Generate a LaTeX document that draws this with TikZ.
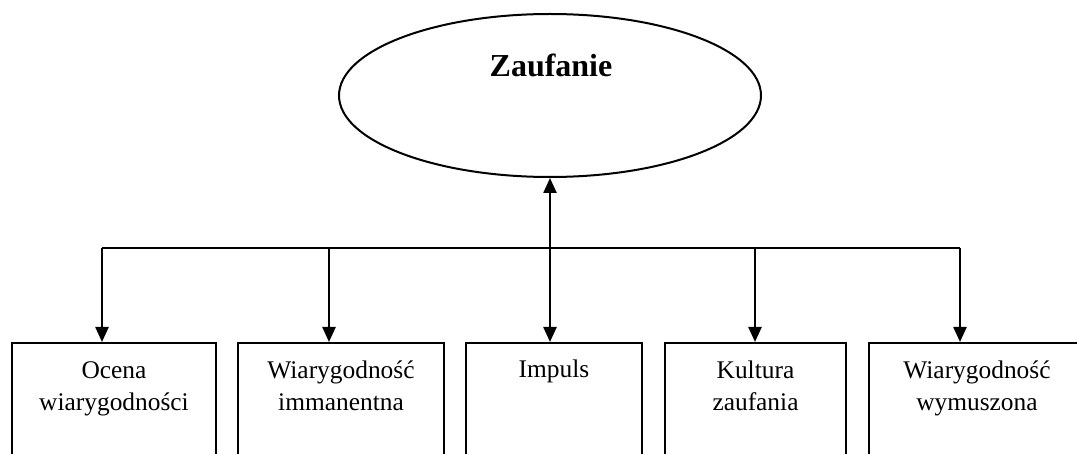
\documentclass[tikz,border=0pt]{standalone}
\usepackage{fontspec}
\setmainfont{Liberation Serif}
\usetikzlibrary{shapes.geometric,arrows.meta}

\tikzset{
  box/.style={draw, line width=1pt, align=center, anchor=north west,
    inner xsep=2pt, inner ysep=4pt, text height=29.5pt, text depth=70pt,
    font=\fontsize{12.7}{16}\selectfont},
  link/.style={line width=1.2pt, >={Triangle[width=6.5pt,length=7.5pt]}},
}

\begin{document}
\begin{tikzpicture}[x=0.5pt,y=-0.5pt]
  \clip (0,0) rectangle (1077,454);

  \node[draw, ellipse, line width=1pt, minimum width=211pt, minimum height=81.5pt] (zauf) at (550,95.5) {};
  \node[anchor=base, font=\fontsize{16}{19}\selectfont\bfseries] (zaufText) at (551,77) {Zaufanie};

  \node[box, minimum width=102pt] (ocena) at (11,342) {Ocena\\wiarygodności};
  \node[box, minimum width=103pt] (immanent) at (237,342) {Wiarygodność\\immanentna};
  \node[box, minimum width=88pt, text height=13.5pt] (impuls) at (465,342) {Impuls};
  \node[box, minimum width=90.5pt] (kultura) at (664,342) {Kultura\\zaufania};
  \node[box, minimum width=108pt] (wymusz) at (868,342) {Wiarygodność\\wymuszona};

  \coordinate (hubL) at (102,248);
  \coordinate (hubR) at (960,248);
  \draw[link] (hubL) -- (hubR);

  \foreach \x/\b in {102/ocena, 329/immanent, 755/kultura, 960/wymusz}
    \draw[link,->] (\x,248) -- (\x,248 |- \b.north);
  \draw[link,<->] (zauf.south) -- (zauf.south |- impuls.north);
\end{tikzpicture}
\end{document}
